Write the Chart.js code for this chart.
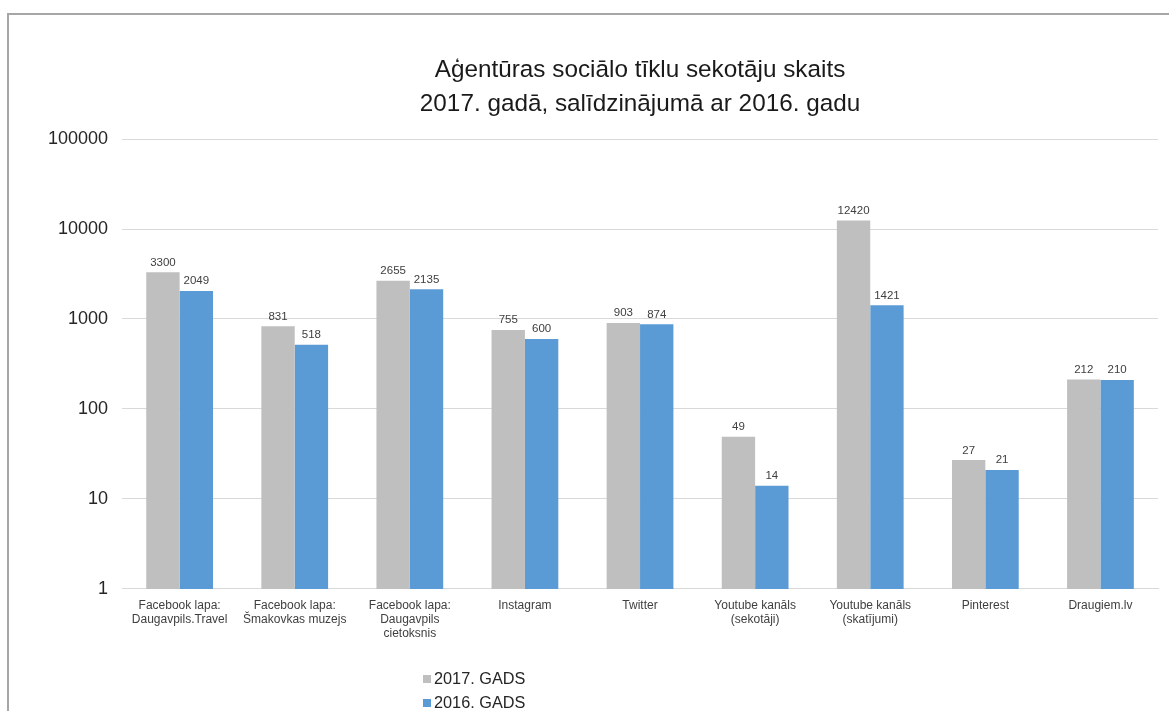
<!DOCTYPE html>
<html>
<head>
<meta charset="utf-8">
<script src="https://cdn.jsdelivr.net/npm/chart.js@4.4.1/dist/chart.umd.min.js"></script>
<style>
  html, body { margin: 0; padding: 0; background: #fff; }
  body { width: 1169px; height: 711px; overflow: hidden; position: relative; font-family: "Liberation Sans", Arial, sans-serif; }
  #wrap { position: absolute; left: 7px; top: 13px; width: 1160px; height: 696px;
          border-left: 2px solid #a6a6a6; border-top: 2px solid #a6a6a6; }
  #legend { position: absolute; left: 423px; top: 666px; font-size: 16.3px; color: #262626; }
  #legend div { height: 24px; line-height: 24px; white-space: nowrap; }
  #legend span.box { display: inline-block; width: 8px; height: 8px; margin-right: 3px; vertical-align: 1px; }
</style>
</head>
<body>
<div id="wrap"><canvas id="chart"></canvas></div>
<div id="legend"></div>
<script>
// categories and values
const categories = [
  ["Facebook lapa:", "Daugavpils.Travel"],
  ["Facebook lapa:", "Šmakovkas muzejs"],
  ["Facebook lapa:", "Daugavpils", "cietoksnis"],
  "Instagram",
  "Twitter",
  ["Youtube kanāls", "(sekotāji)"],
  ["Youtube kanāls", "(skatījumi)"],
  "Pinterest",
  "Draugiem.lv"
];
const values2017 = [3300, 831, 2655, 755, 903, 49, 12420, 27, 212];
const values2016 = [2049, 518, 2135, 600, 874, 14, 1421, 21, 210];
const yTicks = [1, 10, 100, 1000, 10000, 100000];

const seriesNames = ["2017. GADS", "2016. GADS"];
const seriesColors = ["#bfbfbf", "#5b9bd5"];

const textColor = "#262626";
const labelColor = "#404040";
const gridColor = "#d9d9d9";
const fontFamily = "'Liberation Sans', Arial, sans-serif";

// draws the value above each bar
const valueLabels = {
  id: "valueLabels",
  afterDatasetsDraw(chart) {
    const ctx = chart.ctx;
    ctx.save();
    ctx.font = "11.5px " + fontFamily;
    ctx.fillStyle = labelColor;
    ctx.textAlign = "center";
    ctx.textBaseline = "bottom";
    chart.data.datasets.forEach((ds, i) => {
      chart.getDatasetMeta(i).data.forEach((bar, j) => {
        ctx.fillText(ds.data[j], bar.x, bar.y - 4);
      });
    });
    ctx.restore();
  }
};

const chart = new Chart(document.getElementById("chart"), {
  type: "bar",
  data: {
    labels: categories,
    datasets: [
      { label: seriesNames[0], data: values2017, backgroundColor: seriesColors[0] },
      { label: seriesNames[1], data: values2016, backgroundColor: seriesColors[1] }
    ]
  },
  options: {
    responsive: true,
    maintainAspectRatio: false,
    animation: false,
    categoryPercentage: 0.58,
    barPercentage: 1.0,
    layout: { padding: { top: 38, left: 25, right: 11, bottom: 68 } },
    plugins: {
      legend: { display: false },
      tooltip: { enabled: false },
      title: {
        display: true,
        fullSize: false,
        text: ["Aģentūras sociālo tīklu sekotāju skaits", "2017. gadā, salīdzinājumā ar 2016. gadu"],
        color: "#1a1a1a",
        font: { family: fontFamily, size: 24.3, weight: "normal", lineHeight: 1.4 },
        padding: { top: 0, bottom: 18 }
      }
    },
    scales: {
      x: {
        grid: { display: false },
        border: { color: gridColor, width: 1 },
        ticks: {
          color: labelColor,
          font: { family: fontFamily, size: 12, lineHeight: 1.17 },
          maxRotation: 0,
          autoSkip: false,
          padding: 2
        }
      },
      y: {
        type: "logarithmic",
        min: yTicks[0],
        max: yTicks[yTicks.length - 1],
        afterBuildTicks: axis => { axis.ticks = yTicks.map(v => ({ value: v })); },
        grid: { color: gridColor, drawTicks: false },
        border: { display: false },
        ticks: {
          color: textColor,
          font: { family: fontFamily, size: 18 },
          padding: 14,
          callback: v => String(v)
        }
      }
    }
  },
  plugins: [valueLabels]
});

// legend stacked vertically below the axis
const legendEl = document.getElementById("legend");
chart.data.datasets.forEach(ds => {
  const row = document.createElement("div");
  const box = document.createElement("span");
  box.className = "box";
  box.style.background = ds.backgroundColor;
  row.appendChild(box);
  row.appendChild(document.createTextNode(ds.label));
  legendEl.appendChild(row);
});
</script>
</body>
</html>
